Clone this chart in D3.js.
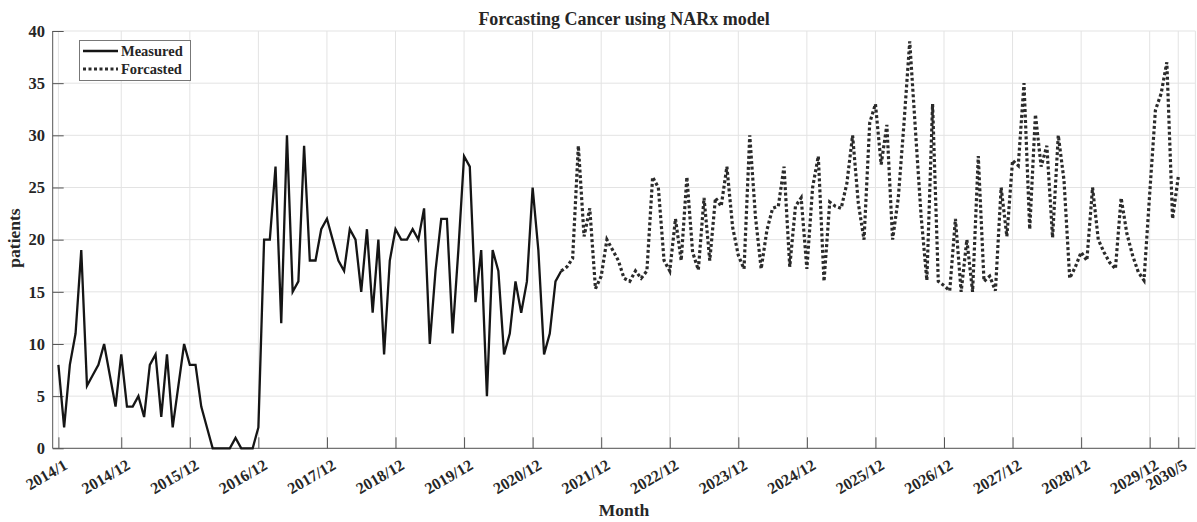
<!DOCTYPE html>
<html><head><meta charset="utf-8">
<script src="https://cdn.jsdelivr.net/npm/d3@7"></script>
<style>
body{margin:0;background:#fff}
svg{display:block}
text{font-family:"Liberation Serif","Times New Roman",serif;font-weight:bold;fill:#262626}
</style>
</head><body><svg id="c" width="1197" height="522"></svg>
<script>
// ---- data ----
const measuredStart = "2014/1";
const measured = [8,2,8,11,19,6,7,8,10,7,4,9,4,4,5,3,8,9,3,9,2,6,10,8,8,4,2,0,0,0,0,1,0,0,0,2,
  20,20,27,12,30,15,16,29,18,18,21,22,20,18,17,21,20,15,21,13,20,9,18,21,20,20,21,20,23,10,17,22,22,11,19,
  28,27,14,19,5,19,17,9,11,16,13,16,25,19,9,11,16,17];
const forecastStart = "2021/5";
const forecasted = [17,17.4,18.2,29,20.3,23,15.3,16.5,20,19,18,16.3,16,17,16.3,17,26,25,18,17,22,
  18,26,18.8,17.1,24,18,24,23.2,27,21.2,18.5,17.2,30,22.2,17.2,20.9,23,23.2,27,17.4,23.2,24,17.2,25,28,
  16,23.6,23.2,23,25.4,30,23.5,20,31.2,33,27.2,31,20,24,31.2,39,30.5,22.2,16.1,33,16,15.6,15.1,
  22,15,20,15,28,16,16.5,15.1,25,20.3,27.6,27.1,35,21,32,27,29,20.2,30,25.7,16.3,17.4,18.8,
  18,25,20,18.8,17.8,17.2,24,20.6,18.5,16.9,16.1,24.4,32.4,34,37,22,26];
const xTickLabels = ["2014/1","2014/12","2015/12","2016/12","2017/12","2018/12","2019/12","2020/12",
  "2021/12","2022/12","2023/12","2024/12","2025/12","2026/12","2027/12","2028/12","2029/12","2030/5"];
const yTicks = [0,5,10,15,20,25,30,35,40];
const seriesNames = ["Measured","Forcasted"];
const titleText = "Forcasting Cancer using NARx model";
const xLabel = "Month";
const yLabel = "patients";

// ---- helpers ----
const monthIndex = s => { const [y,m] = s.split("/").map(Number); return (y-2014)*12 + (m-1); };
const mStart = monthIndex(measuredStart), fStart = monthIndex(forecastStart);
const mData = measured.map((v,i)=>({i:mStart+i, v}));
const fData = forecasted.map((v,i)=>({i:fStart+i, v}));

const svg = d3.select("#c");
svg.append("rect").attr("width",1197).attr("height",522).attr("fill","#fff");

const L = 52.7, R = 1195.4, T = 31, B = 448.3;
const x = d3.scaleLinear().domain([-1,199]).range([L,R]);
const y = d3.scaleLinear().domain([0,40]).range([B,T]);
const xt = xTickLabels.map(monthIndex);

// grid
const g = svg.append("g");
g.selectAll(".gx").data(xt).enter().append("line")
  .attr("x1",d=>x(d)).attr("x2",d=>x(d)).attr("y1",T).attr("y2",B)
  .attr("stroke","#e3e3e3").attr("stroke-width",1);
g.selectAll(".gy").data(yTicks).enter().append("line")
  .attr("x1",L).attr("x2",R).attr("y1",d=>y(d)).attr("y2",d=>y(d))
  .attr("stroke","#e3e3e3").attr("stroke-width",1);
g.append("line").attr("x1",R).attr("x2",R).attr("y1",T).attr("y2",B).attr("stroke","#e3e3e3");

// axes (inward ticks)
const xAxis = d3.axisBottom(x).tickValues(xt).tickSize(-11).tickFormat("");
const ax = svg.append("g").attr("transform",`translate(0,${B})`).call(xAxis);
ax.select(".domain").attr("stroke","#555").attr("d",`M${L},0H${R}`);
ax.selectAll(".tick line").attr("stroke","#555");
const yAxis = d3.axisLeft(y).tickValues(yTicks).tickSize(-11).tickFormat("");
const ay = svg.append("g").attr("transform",`translate(${L},0)`).call(yAxis);
ay.select(".domain").attr("stroke","#555").attr("d",`M0,${B}V${T}`);
ay.selectAll(".tick line").attr("stroke","#555");

// tick labels
svg.selectAll(".xl").data(xTickLabels).enter().append("text")
  .attr("transform",d=>`translate(${x(monthIndex(d))+10},${B+20}) rotate(-30)`)
  .attr("text-anchor","end").attr("font-size",16).text(d=>d);
svg.selectAll(".yl").data(yTicks).enter().append("text")
  .attr("x",45).attr("y",d=>y(d)).attr("dy","0.35em")
  .attr("text-anchor","end").attr("font-size",16.5).text(d=>d);

// lines
const line = d3.line().x(d=>x(d.i)).y(d=>y(d.v));
svg.append("path").datum(fData).attr("d",line).attr("fill","none")
  .attr("stroke","#2b2b2b").attr("stroke-width",3.2).attr("stroke-dasharray","3,2.5");
svg.append("path").datum(mData).attr("d",line).attr("fill","none")
  .attr("stroke","#151515").attr("stroke-width",2.3).attr("stroke-linejoin","miter");

// title & labels
svg.append("text").attr("x",(L+R)/2).attr("y",24.5).attr("text-anchor","middle")
  .attr("font-size",18).attr("fill","#000").text(titleText);
svg.append("text").attr("x",(L+R)/2).attr("y",516).attr("text-anchor","middle")
  .attr("font-size",17.5).text(xLabel);
svg.append("text").attr("transform","translate(20,238) rotate(-90)").attr("text-anchor","middle")
  .attr("font-size",17.5).text(yLabel);

// legend
const lg = svg.append("g");
lg.append("rect").attr("x",79.5).attr("y",40.5).attr("width",111).attr("height",40)
  .attr("fill","#fff").attr("stroke","#777").attr("stroke-width",1);
const legY = [51,69];
seriesNames.forEach((n,k)=>{
  lg.append("line").attr("x1",83).attr("x2",118).attr("y1",legY[k]).attr("y2",legY[k])
    .attr("stroke",k?"#2b2b2b":"#151515").attr("stroke-width",k?3.2:2.3)
    .attr("stroke-dasharray",k?"3,2.5":null);
  lg.append("text").attr("x",121).attr("y",legY[k]).attr("dy","0.33em")
    .attr("font-size",14.5).attr("fill","#000").text(n);
});
</script>
</body></html>
